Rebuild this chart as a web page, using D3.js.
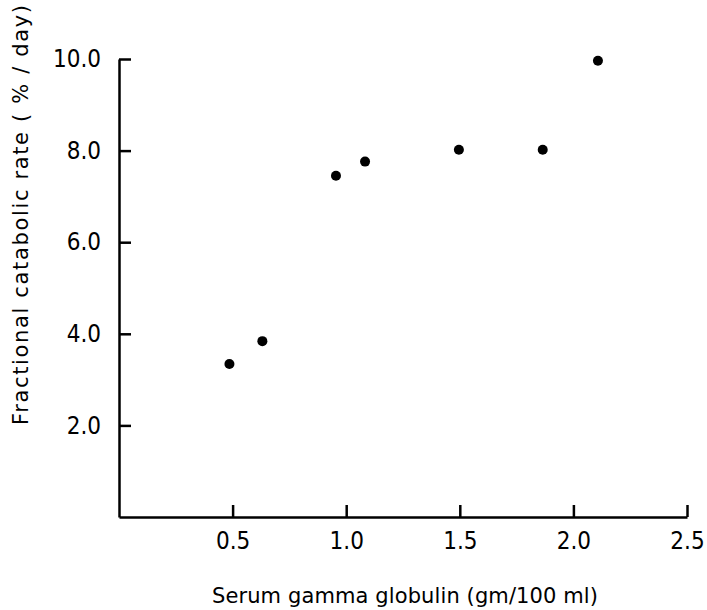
<!DOCTYPE html>
<html>
<head>
<meta charset="utf-8">
<script src="https://cdn.jsdelivr.net/npm/d3@7"></script>
<style>
  body { margin: 0; background: #fff; }
  svg { display: block; }
  .tick text { font-family: "Liberation Sans Narrow", "DejaVu Sans Condensed", "Liberation Sans", sans-serif; font-size: 24px; fill: #000; }
  .title { font-family: "DejaVu Sans", "Open Sans", sans-serif; font-size: 21px; fill: #000; }
</style>
</head>
<body>
<svg id="chart" width="707" height="610"></svg>
<script>
// Data
const gammaGlobulin = [0.486, 0.631, 0.955, 1.083, 1.496, 1.865, 2.108];
const catabolicRate = [3.34, 3.84, 7.45, 7.76, 8.02, 8.02, 9.96];
const xTickValues = [0.5, 1.0, 1.5, 2.0, 2.5];
const yTickValues = [2, 4, 6, 8, 10];
const xTitle = "Serum gamma globulin (gm/100 ml)";
const yTitle = "Fractional catabolic rate ( % / day)";

const svg = d3.select("#chart");
const x = d3.scaleLinear().domain([0, 2.5]).range([119, 687]);
const y = d3.scaleLinear().domain([0, 10]).range([517, 59]);

const xAxis = d3.axisBottom(x)
  .tickValues(xTickValues)
  .tickFormat(d3.format(".1f"))
  .tickSizeInner(-12)
  .tickSizeOuter(0)
  .tickPadding(15);

const yAxis = d3.axisLeft(y)
  .tickValues(yTickValues)
  .tickFormat(d3.format(".1f"))
  .tickSizeInner(-12)
  .tickSizeOuter(0)
  .tickPadding(18);

const gx = svg.append("g").attr("transform", `translate(0,${y(0)})`).call(xAxis);
const gy = svg.append("g").attr("transform", `translate(${x(0)},0)`).call(yAxis);

[gx, gy].forEach(g => {
  g.selectAll("path.domain").attr("stroke", "#000").attr("stroke-width", 2.5);
  g.selectAll(".tick line").attr("stroke", "#000").attr("stroke-width", 2.5);
  g.attr("font-family", null).attr("font-size", null);
});

svg.append("g")
  .selectAll("circle")
  .data(gammaGlobulin.map((v, i) => [v, catabolicRate[i]]))
  .join("circle")
  .attr("cx", d => x(d[0]))
  .attr("cy", d => y(d[1]))
  .attr("r", 5)
  .attr("fill", "#000");

svg.append("text")
  .attr("class", "title")
  .attr("x", 405)
  .attr("y", 603)
  .attr("text-anchor", "middle")
  .attr("textLength", 386)
  .attr("lengthAdjust", "spacing")
  .text(xTitle);

svg.append("text")
  .attr("class", "title")
  .attr("transform", "translate(28,215) rotate(-90)")
  .attr("text-anchor", "middle")
  .attr("textLength", 420)
  .attr("lengthAdjust", "spacing")
  .text(yTitle);
</script>
</body>
</html>
